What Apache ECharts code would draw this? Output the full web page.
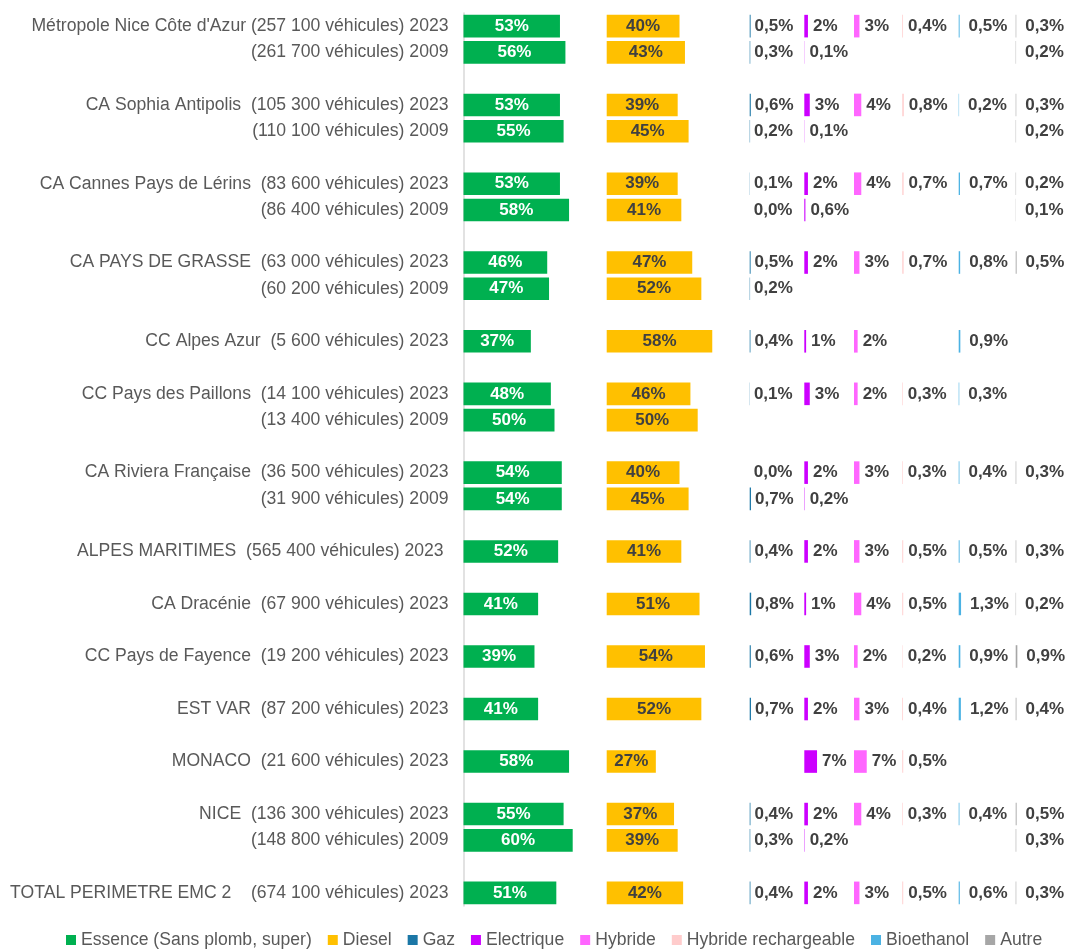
<!DOCTYPE html>
<html>
<head>
<meta charset="utf-8">
<script src="https://cdn.jsdelivr.net/npm/echarts@6/dist/echarts.min.js"></script>
<style>
  html, body { margin: 0; padding: 0; background: #fff; }
  #chart { width: 1077px; height: 951px; }
</style>
</head>
<body>
<div id="chart"></div>
<script>
// lignes du graphique ('' = ligne vide entre les groupes)
const rows = [
  "Métropole Nice Côte d'Azur (257 100 véhicules) 2023",
  '(261 700 véhicules) 2009',
  '',
  'CA Sophia Antipolis  (105 300 véhicules) 2023',
  '(110 100 véhicules) 2009',
  '',
  'CA Cannes Pays de Lérins  (83 600 véhicules) 2023',
  '(86 400 véhicules) 2009',
  '',
  'CA PAYS DE GRASSE  (63 000 véhicules) 2023',
  '(60 200 véhicules) 2009',
  '',
  'CC Alpes Azur  (5 600 véhicules) 2023',
  '',
  'CC Pays des Paillons  (14 100 véhicules) 2023',
  '(13 400 véhicules) 2009',
  '',
  'CA Riviera Française  (36 500 véhicules) 2023',
  '(31 900 véhicules) 2009',
  '',
  'ALPES MARITIMES  (565 400 véhicules) 2023 ',
  '',
  'CA Dracénie  (67 900 véhicules) 2023',
  '',
  'CC Pays de Fayence  (19 200 véhicules) 2023',
  '',
  'EST VAR  (87 200 véhicules) 2023',
  '',
  'MONACO  (21 600 véhicules) 2023',
  '',
  'NICE  (136 300 véhicules) 2023',
  '(148 800 véhicules) 2009',
  '',
  'TOTAL PERIMETRE EMC 2    (674 100 véhicules) 2023'
]

const _ = null
const essence = [53, 56, _, 53, 55, _, 53, 58, _, 46, 47, _, 37, _, 48, 50, _, 54, 54, _, 52, _, 41, _, 39, _, 41, _, 58, _, 55, 60, _, 51]
const diesel = [40, 43, _, 39, 45, _, 39, 41, _, 47, 52, _, 58, _, 46, 50, _, 40, 45, _, 41, _, 51, _, 54, _, 52, _, 27, _, 37, 39, _, 42]
const gaz = [0.5, 0.3, _, 0.6, 0.2, _, 0.1, 0.0, _, 0.5, 0.2, _, 0.4, _, 0.1, _, _, 0.0, 0.7, _, 0.4, _, 0.8, _, 0.6, _, 0.7, _, _, _, 0.4, 0.3, _, 0.4]
const electrique = [2, 0.1, _, 3, 0.1, _, 2, 0.6, _, 2, _, _, 1, _, 3, _, _, 2, 0.2, _, 2, _, 1, _, 3, _, 2, _, 7, _, 2, 0.2, _, 2]
const hybride = [3, _, _, 4, _, _, 4, _, _, 3, _, _, 2, _, 2, _, _, 3, _, _, 3, _, 4, _, 2, _, 3, _, 7, _, 4, _, _, 3]
const hybrideRech = [0.4, _, _, 0.8, _, _, 0.7, _, _, 0.7, _, _, _, _, 0.3, _, _, 0.3, _, _, 0.5, _, 0.5, _, 0.2, _, 0.4, _, 0.5, _, 0.3, _, _, 0.5]
const bioethanol = [0.5, _, _, 0.2, _, _, 0.7, _, _, 0.8, _, _, 0.9, _, 0.3, _, _, 0.4, _, _, 0.5, _, 1.3, _, 0.9, _, 1.2, _, _, _, 0.4, _, _, 0.6]
const autre = [0.3, 0.2, _, 0.3, 0.2, _, 0.2, 0.1, _, 0.5, _, _, _, _, _, _, _, 0.3, _, _, 0.3, _, 0.2, _, 0.9, _, 0.4, _, _, _, 0.5, 0.3, _, 0.3]

const names = ['Essence (Sans plomb, super)', 'Diesel', 'Gaz', 'Electrique', 'Hybride', 'Hybride rechargeable', 'Bioethanol', 'Autre']
const values = [essence, diesel, gaz, electrique, hybride, hybrideRech, bioethanol, autre]

const colors = ['#00B050', '#FFC000', '#1B77A6', '#CC00FF', '#FF66FF', '#FFCCCC', '#4BB2E3', '#A6A6A6']

// colonnes (position et largeur en px), échelle commune
const PX = 1.82
const cols = [
  { left: 463.5, width: 143, pos: 'inside', color: '#fff', dist: 0, dec: false },
  { left: 606.7, width: 143, pos: 'inside', color: '#404040', dist: 0, dec: false },
  { left: 749.7, width: 54, pos: 'right', color: '#404040', dist: 4, dec: true },
  { left: 804.3, width: 49, pos: 'right', color: '#404040', dist: 5, dec: false },
  { left: 854, width: 48, pos: 'right', color: '#404040', dist: 5, dec: false },
  { left: 902.3, width: 56, pos: 'right', color: '#404040', dist: 5, dec: true },
  { left: 958.7, width: 57, pos: 'right', color: '#404040', dist: 9, dec: true },
  { left: 1015.7, width: 61, pos: 'right', color: '#404040', dist: 9, dec: true }
]

const FONT = 'Liberation Sans, Arial, sans-serif'
const TOP = 13
const BOTTOM = 45

const fmt = (v, dec) => {
  const s = (dec || v < 1) ? v.toFixed(1) : v.toFixed(0)
  return s.replace('.', ',') + '%'
}

const chart = echarts.init(document.getElementById('chart'))

const option = {
  animation: false,
  color: colors,
  legend: {
    top: 926,
    left: 61,
    itemWidth: 10,
    itemHeight: 10,
    itemGap: 16,
    icon: 'rect',
    textStyle: { fontFamily: FONT, fontSize: 17.6, color: '#595959' },
    data: names
  },
  grid: cols.map(c => ({ left: c.left, width: c.width, top: TOP, bottom: BOTTOM })),
  xAxis: cols.map((c, i) => ({
    type: 'value',
    gridIndex: i,
    min: 0,
    max: c.width / PX,
    show: false
  })),
  yAxis: cols.map((c, i) => ({
    type: 'category',
    gridIndex: i,
    inverse: true,
    data: rows,
    axisTick: { show: false },
    axisLine: { show: i === 0, lineStyle: { color: '#D9D9D9', width: 1.5 } },
    axisLabel: {
      show: i === 0,
      margin: 15,
      fontFamily: FONT,
      fontSize: 17.6,
      color: '#595959'
    }
  })),
  series: names.map((name, i) => ({
    name,
    type: 'bar',
    xAxisIndex: i,
    yAxisIndex: i,
    barWidth: '86%',
    data: values[i],
    itemStyle: { color: colors[i] },
    label: {
      show: true,
      position: cols[i].pos,
      distance: cols[i].dist,
      color: cols[i].color,
      fontFamily: FONT,
      fontSize: 17,
      fontWeight: 'bold',
      formatter: p => fmt(p.value, cols[i].dec)
    }
  }))
}

chart.setOption(option)
</script>
</body>
</html>
